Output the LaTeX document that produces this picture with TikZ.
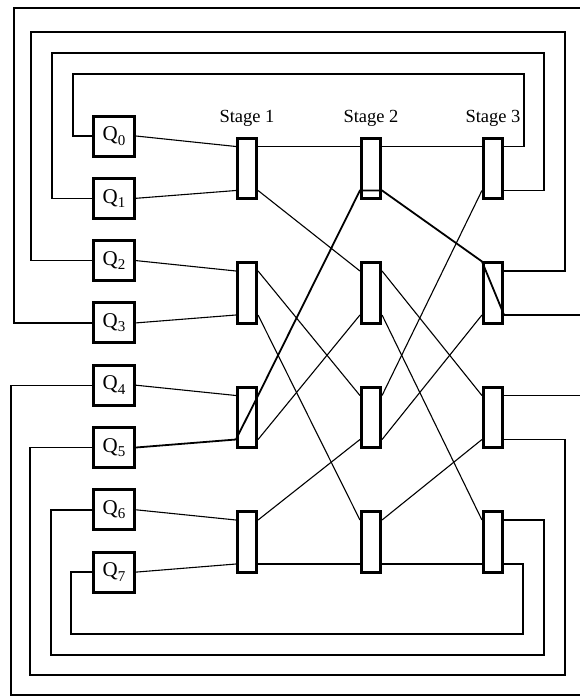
\documentclass[tikz,border=0pt]{standalone}
\usepackage{fontspec}
\setmainfont{Liberation Serif}
\usetikzlibrary{calc}
\begin{document}
\begin{tikzpicture}[x=1pt,y=-1pt,
  qbox/.style={draw,line width=3pt,minimum width=41pt,minimum height=40pt,inner sep=0pt,font=\fontsize{21}{21}\selectfont},
  sw/.style={draw,line width=2.6pt,minimum width=19.5pt,minimum height=60.5pt,inner sep=0pt,fill=white},
  wire/.style={line width=1.1pt},
  loopw/.style={line width=1.4pt},
  hot/.style={line width=1.8pt},
  lab/.style={font=\fontsize{18.5}{18.5}\selectfont}]
\useasboundingbox (0,0) rectangle (580,699);
\coordinate (R) at (580,0);
% queue boxes
\foreach \i in {0,...,7}
  \node[qbox] (Q\i) at (114,{136+62.3*\i}) {Q\raisebox{-0.45ex}{\fontsize{15}{15}\selectfont\i}};
% switches
\foreach \s/\x in {1/247,2/371,3/493}
  \foreach \j/\y in {1/168.5,2/293,3/417.5,4/542} {
    \node[sw] (S\s\j) at (\x,\y) {};
    \coordinate (S\s\j-i0) at ([yshift=22pt]S\s\j.west);
    \coordinate (S\s\j-i1) at ([yshift=-22pt]S\s\j.west);
    \coordinate (S\s\j-o0) at ([yshift=22pt]S\s\j.east);
    \coordinate (S\s\j-o1) at ([yshift=-22pt]S\s\j.east);
  }
% stage labels
\node[lab] (L1) at (247,118) {Stage 1};
\node[lab] (L2) at (371,118) {Stage 2};
\node[lab] (L3) at (493,118) {Stage 3};
% inputs
\draw[wire] (Q0.east) -- (S11-i0);
\draw[wire] (Q1.east) -- (S11-i1);
\draw[wire] (Q2.east) -- (S12-i0);
\draw[wire] (Q3.east) -- (S12-i1);
\draw[wire] (Q4.east) -- (S13-i0);
\draw[wire] (Q6.east) -- (S14-i0);
\draw[wire] (Q7.east) -- (S14-i1);
% stage 1 -> stage 2
\draw[wire] (S11-o0) -- (S21-i0);
\draw[wire] (S11-o1) -- (S22-i0);
\draw[wire] (S12-o0) -- (S23-i0);
\draw[wire] (S12-o1) -- (S24-i0);
\draw[wire] (S13-o1) -- (S22-i1);
\draw[wire] (S14-o0) -- (S23-i1);
\draw[wire] (S14-o1) -- (S24-i1);
% stage 2 -> stage 3
\draw[wire] (S21-o0) -- (S31-i0);
\draw[wire] (S22-o0) -- (S33-i0);
\draw[wire] (S22-o1) -- (S34-i0);
\draw[wire] (S23-o0) -- (S31-i1);
\draw[wire] (S23-o1) -- (S32-i1);
\draw[wire] (S24-o0) -- (S33-i1);
\draw[wire] (S24-o1) -- (S34-i1);
% highlighted path
\draw[hot,line join=miter] (Q5.east) -- (S13-i1) -- (S13-o0) -- (S21-i1) -- (S21-o1) -- (S32.north west) -- (S32-o1) -- (S32-o1 -| R);
% feedback loops
\draw[loopw] (Q0.west) -| (73,74) -- (524,74) |- (S31-o0);
\draw[loopw] (Q1.west) -| (52,53) -- (544,53) |- (S31-o1);
\draw[loopw] (Q2.west) -| (31,32) -- (565,32) |- (S32-o0);
\draw[loopw] (Q3.west) -| (14,8) -- (580,8);
\draw[loopw] (S33-o0) -- (S33-o0 -| R);
\draw[loopw] (Q4.west) -| (11,695) -- (580,695);
\draw[loopw] (Q5.west) -| (30,675) -- (565,675) |- (S33-o1);
\draw[loopw] (Q6.west) -| (51,655) -- (544,655) |- (S34-o0);
\draw[loopw] (Q7.west) -| (71,634) -- (523,634) |- (S34-o1);
\end{tikzpicture}
\end{document}
